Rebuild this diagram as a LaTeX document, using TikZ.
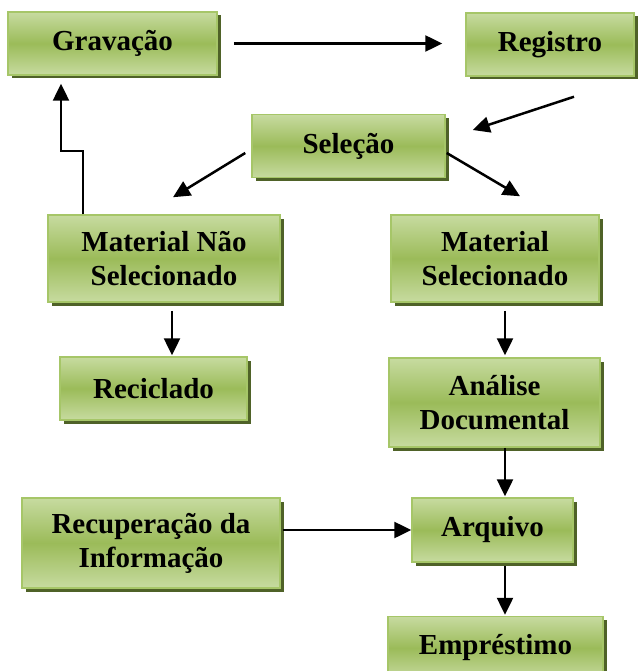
\documentclass[tikz,border=0pt]{standalone}
\usepackage{fontspec}
\setmainfont{Liberation Serif}
\usetikzlibrary{arrows.meta,shadows,calc}
\definecolor{gmid}{RGB}{155,187,89}
\definecolor{glight}{RGB}{199,219,160}
\definecolor{gborder}{RGB}{166,198,104}
\definecolor{gshadow}{RGB}{79,98,40}
\begin{document}
\begin{tikzpicture}[x=1pt,y=-1pt,
 box/.style={draw=gborder, line width=1.5pt, top color=glight, bottom color=glight, middle color=gmid,
   drop shadow={shadow xshift=3.5pt,shadow yshift=-3.5pt,fill=gshadow,opacity=1},
   font=\fontsize{29}{34}\selectfont\bfseries, align=center, inner sep=0pt},
 arr/.style={line width=2.5pt, -{Triangle[length=17pt,width=16pt]}}]
\useasboundingbox (0,0) rectangle (638,671);
\node[box, minimum width=209pt, minimum height=63pt] (grav) at (112.5,43.5) {Gravação};
\node[box, minimum width=168pt, minimum height=63pt] (reg) at (550,44.5) {Registro};
\node[box, minimum width=193pt, minimum height=63pt] (sel) at (348.5,146) {Seleção};
\node[box, minimum width=232pt, minimum height=87pt] (mns) at (164,258.5) {Material Não\\Selecionado};
\node[box, minimum width=208pt, minimum height=87pt] (ms) at (495,258.5) {Material\\Selecionado};
\node[box, minimum width=187pt, minimum height=63pt] (rec) at (153.5,388.5) {Reciclado};
\node[box, minimum width=211pt, minimum height=89pt] (an) at (494.5,402.5) {Análise\\Documental};
\node[box, minimum width=161pt, minimum height=64pt] (arq) at (492.5,530) {Arquivo};
\node[box, minimum width=258pt, minimum height=90pt] (recup) at (151,543) {Recuperação da\\Informação};
\node[box, minimum width=215pt, minimum height=63pt] (emp) at (495.5,648) {Empréstimo};
\coordinate (c1) at (172,0);
\coordinate (c2) at (505,0);
\draw[arr, shorten <=16pt, shorten >=23pt] (grav.east) -- (grav.east -| reg.west);
\draw[arr] ($(reg.south)+(24,20)$) -- ($(sel.east)+(27,-16)$);
\draw[arr] ($(sel.west)+(-6,7)$) -- ($(mns.north)+(9,-17)$);
\draw[arr] ($(sel.east)+(1,7)$) -- ($(ms.north)+(25,-18)$);
\draw[arr] ($(mns.north)+(-81,0)$) -- ++(0,-63) -- ++(-22,0) -- ($(grav.south)+(-51.5,8)$);
\draw[arr, shorten <=8pt, shorten >=1pt] (mns.south -| c1) -- (rec.north -| c1);
\draw[arr, shorten <=8pt, shorten >=2pt] (ms.south -| c2) -- (an.north -| c2);
\draw[arr, shorten >=1pt] (an.south -| c2) -- (arq.north -| c2);
\draw[arr, shorten <=3pt, shorten >=1pt] (arq.south -| c2) -- (emp.north -| c2);
\draw[arr, shorten <=2pt] (arq.west -| recup.east) -- (arq.west);
\end{tikzpicture}
\end{document}
